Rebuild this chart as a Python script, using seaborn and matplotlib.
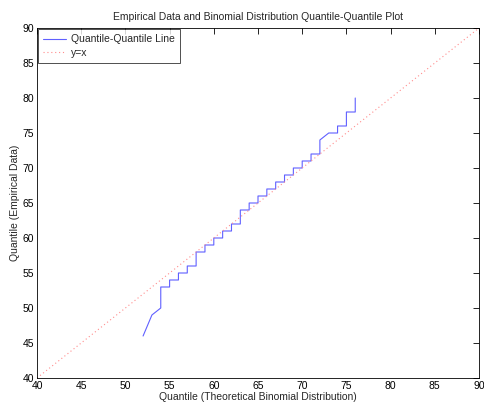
import matplotlib
matplotlib.use("Agg")
import matplotlib.pyplot as plt
import seaborn as sns
import pandas as pd

# Quantile-Quantile line vertices (theoretical binomial quantile, empirical quantile)
theoretical_q = [52, 53, 54, 54, 55, 55, 56, 56, 57, 57, 58, 58, 59, 59, 60, 60,
                 61, 61, 62, 62, 63, 63, 64, 64, 65, 65, 66, 66, 67, 67, 68, 68,
                 69, 69, 70, 70, 71, 71, 72, 72, 73, 74, 74, 75, 75, 76, 76]
empirical_q = [46, 49, 50, 53, 53, 54, 54, 55, 55, 56, 56, 58, 58, 59, 59, 60,
               60, 61, 61, 62, 62, 64, 64, 65, 65, 66, 66, 67, 67, 68, 68, 69,
               69, 70, 70, 71, 71, 72, 72, 74, 75, 75, 76, 76, 78, 78, 80]
ref_x = [40, 90]
ref_y = [40, 90]
ticks = [40, 45, 50, 55, 60, 65, 70, 75, 80, 85, 90]

sns.set_style("white")
plt.rcParams['font.family'] = ['Liberation Sans', 'DejaVu Sans']
plt.rcParams['font.size'] = 7.5

fig = plt.figure(figsize=(4.85, 4.04), dpi=100)
ax = fig.add_axes([37/485, 1 - 378/404, (479 - 37)/485, (378 - 28)/404])

qq = pd.DataFrame({"x": theoretical_q, "y": empirical_q})
ref = pd.DataFrame({"x": ref_x, "y": ref_y})

sns.lineplot(data=qq, x="x", y="y", sort=False, estimator=None, ax=ax,
             color="#6060ff", linewidth=0.8, label="Quantile-Quantile Line")
sns.lineplot(data=ref, x="x", y="y", sort=False, estimator=None, ax=ax,
             color="#ff8c8c", linewidth=0.8, linestyle=(0, (1, 2.5)), label="y=x")

ax.set_xlim(40, 90)
ax.set_ylim(40, 90)
ax.set_xticks(ticks)
ax.set_yticks(ticks)
ax.tick_params(direction="in", length=4, width=0.6, top=True, right=True,
               labelsize=7.5, colors="black", pad=2)
for s in ax.spines.values():
    s.set_color("black")
    s.set_linewidth(0.6)

ax.set_title("Empirical Data and Binomial Distribution Quantile-Quantile Plot",
             fontsize=7.5, pad=6)
ax.set_xlabel("Quantile (Theoretical Binomial Distribution)", fontsize=7.5, labelpad=1)
ax.set_ylabel("Quantile (Empirical Data)", fontsize=7.5, labelpad=2)

leg = ax.legend(loc="upper left", bbox_to_anchor=(0.0, 1.0), fontsize=7.5,
                frameon=True, fancybox=False, edgecolor="black",
                borderaxespad=0.1, handlelength=2.2, handletextpad=0.5,
                borderpad=0.5, labelspacing=0.35)
leg.get_frame().set_linewidth(0.6)

fig.savefig("out.png", dpi=100)
